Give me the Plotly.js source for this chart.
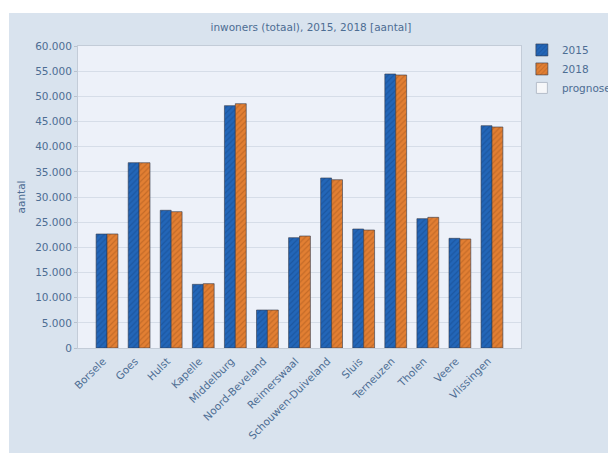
<!DOCTYPE html>
<html>
<head>
<meta charset="utf-8">
<script src="https://cdn.plot.ly/plotly-3.0.1.min.js"></script>
<style>
html,body{margin:0;padding:0;background:#ffffff;width:608px;height:456px;overflow:hidden;}
#chart{position:absolute;left:9px;top:13px;width:599px;height:440px;}
</style>
</head>
<body>
<div id="chart"></div>
<script>
const categories = ["Borsele","Goes","Hulst","Kapelle","Middelburg","Noord-Beveland","Reimerswaal","Schouwen-Duiveland","Sluis","Terneuzen","Tholen","Veere","Vlissingen"];
const values2015 = [22650, 36820, 27360, 12650, 48150, 7550, 21920, 33780, 23640, 54440, 25700, 21790, 44170];
const values2018 = [22660, 36810, 27090, 12780, 48540, 7550, 22250, 33440, 23440, 54240, 25960, 21660, 43910];
const prognose = [null, null, null, null, null, null, null, null, null, null, null, null, null];
const seriesNames = ["2015", "2018", "prognose"];
const yTicks = [0,5000,10000,15000,20000,25000,30000,35000,40000,45000,50000,55000,60000];

const txt = '#4d6d93';
const font = {family: 'DejaVu Sans, Verdana, sans-serif', size: 10.5, color: txt};

const traces = [
  {type:'bar', name:seriesNames[0], x:categories, y:values2015,
   marker:{color:'#2366b8', line:{color:'#33394a', width:0.6},
     pattern:{shape:'/', fillmode:'overlay', bgcolor:'#2366b8', fgcolor:'#164889', size:4, solidity:0.3}}},
  {type:'bar', name:seriesNames[1], x:categories, y:values2018,
   marker:{color:'#e27f33', line:{color:'#33394a', width:0.6},
     pattern:{shape:'/', fillmode:'overlay', bgcolor:'#e27f33', fgcolor:'#a6581d', size:4, solidity:0.3}}},
  {type:'scatter', mode:'markers', name:seriesNames[2], x:categories, y:prognose,
   marker:{symbol:'square', size:11, color:'#f6f7f9', line:{color:'#b5bec9', width:1}}}
];

const layout = {
  width:599, height:440,
  paper_bgcolor:'#d9e3ee', plot_bgcolor:'#edf1f9',
  font:font,
  separators:',.',
  margin:{l:69, r:87, t:33, b:105, autoexpand:false},
  title:{text:'inwoners (totaal), 2015, 2018 [aantal]', x:0.504, xref:'container', xanchor:'center',
         y:0.968, yref:'container', yanchor:'middle', font:{family:font.family, size:10.5, color:txt}},
  barmode:'group', bargap:0.32, bargroupgap:0,
  xaxis:{type:'category', tickangle:-45, showgrid:false, ticks:'', tickfont:font,
         ticklabelshift:-4, ticklabelstandoff:2,
         showline:true, linecolor:'#c3ccd8', linewidth:1, mirror:true, automargin:false},
  yaxis:{range:[0,60000], tickvals:yTicks, tickformat:',d', showgrid:true, gridcolor:'#d6dde8', gridwidth:1,
         zeroline:false, showline:true, linecolor:'#c3ccd8', linewidth:1, mirror:true, ticks:'outside', ticklen:3, tickcolor:'#b8c1cd',
         tickfont:font, automargin:false,
         title:{text:'aantal', standoff:7, font:font}},
  legend:{x:1.002, xanchor:'left', y:1.035, yanchor:'top', bgcolor:'rgba(0,0,0,0)', font:font, tracegroupgap:2, itemwidth:30},
  showlegend:true
};

Plotly.newPlot('chart', traces, layout, {displayModeBar:false, staticPlot:true});
</script>
</body>
</html>
